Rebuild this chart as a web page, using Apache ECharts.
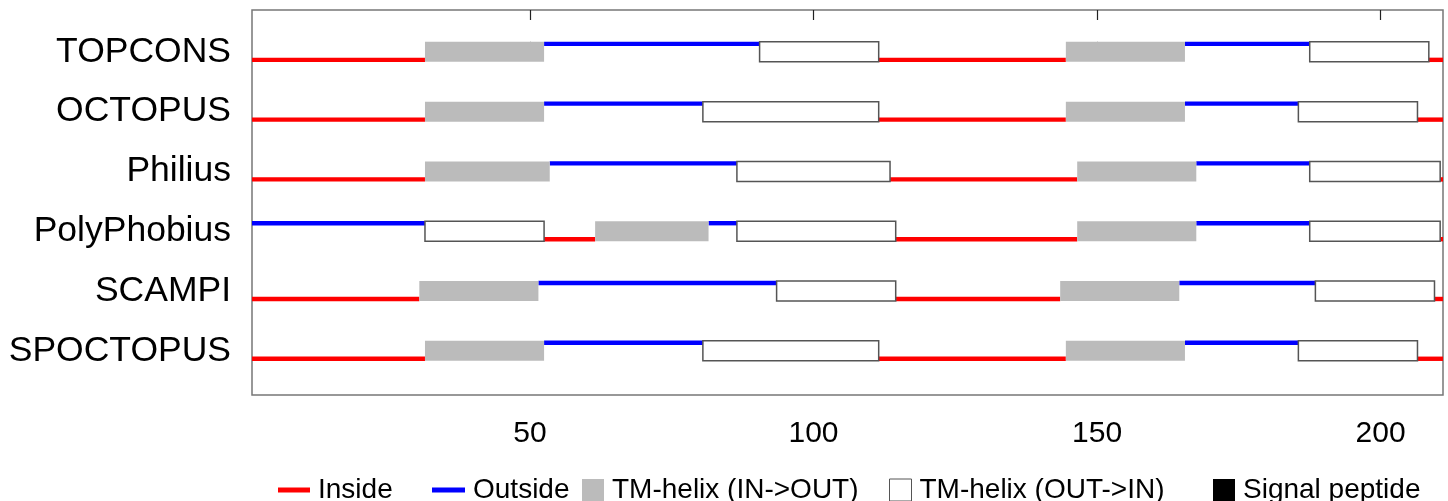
<!DOCTYPE html>
<html>
<head>
<meta charset="utf-8">
<script src="https://cdn.jsdelivr.net/npm/echarts@6/dist/echarts.min.js"></script>
<style>
html,body{margin:0;padding:0;background:#fff;}
#chart{width:1448px;height:501px;}
</style>
</head>
<body>
<div id="chart"></div>
<script>
// ---- data ----
const tools = ['TOPCONS', 'OCTOPUS', 'Philius', 'PolyPhobius', 'SCAMPI', 'SPOCTOPUS'];
const xTicks = [50, 100, 150, 200];
const seqStart = 1, seqEnd = 211;
// segments: [type, start, end]  type: in / out / hio (TM IN->OUT) / hoi (TM OUT->IN) / sp
const TOPCONS = [['in',1,31.5],['hio',31.5,52.5],['out',52.5,90.5],['hoi',90.5,111.5],['in',111.5,144.5],['hio',144.5,165.5],['out',165.5,187.5],['hoi',187.5,208.5],['in',208.5,211]];
const OCTOPUS = [['in',1,31.5],['hio',31.5,52.5],['out',52.5,80.5],['hoi',80.5,111.5],['in',111.5,144.5],['hio',144.5,165.5],['out',165.5,185.5],['hoi',185.5,206.5],['in',206.5,211]];
const Philius = [['in',1,31.5],['hio',31.5,53.5],['out',53.5,86.5],['hoi',86.5,113.5],['in',113.5,146.5],['hio',146.5,167.5],['out',167.5,187.5],['hoi',187.5,210.5],['in',210.5,211]];
const PolyPhobius = [['out',1,31.5],['hoi',31.5,52.5],['in',52.5,61.5],['hio',61.5,81.5],['out',81.5,86.5],['hoi',86.5,114.5],['in',114.5,146.5],['hio',146.5,167.5],['out',167.5,187.5],['hoi',187.5,210.5],['in',210.5,211]];
const SCAMPI = [['in',1,30.5],['hio',30.5,51.5],['out',51.5,93.5],['hoi',93.5,114.5],['in',114.5,143.5],['hio',143.5,164.5],['out',164.5,188.5],['hoi',188.5,209.5],['in',209.5,211]];
const SPOCTOPUS = [['in',1,31.5],['hio',31.5,52.5],['out',52.5,80.5],['hoi',80.5,111.5],['in',111.5,144.5],['hio',144.5,165.5],['out',165.5,185.5],['hoi',185.5,206.5],['in',206.5,211]];
const rows = [TOPCONS, OCTOPUS, Philius, PolyPhobius, SCAMPI, SPOCTOPUS];
const types = [
  {key:'in',  name:'Inside'},
  {key:'out', name:'Outside'},
  {key:'hio', name:'TM-helix (IN->OUT)'},
  {key:'hoi', name:'TM-helix (OUT->IN)'},
  {key:'sp',  name:'Signal peptide'}
];

// ---- build ----
function dataFor(key){
  const out = [];
  rows.forEach((segs, r) => segs.forEach(s => { if (s[0] === key) out.push([s[1], s[2], r]); }));
  return out;
}
const FONT = '"Liberation Sans", Arial, Helvetica, sans-serif';
const styleMap = {
  in:  {kind:'line', off: 8,  fill:'#ff0000'},
  out: {kind:'line', off:-8,  fill:'#0000ff'},
  hio: {kind:'box', fill:'#bbbbbb', stroke:null},
  hoi: {kind:'box', fill:'#ffffff', stroke:'#555555'},
  sp:  {kind:'box', fill:'#000000', stroke:null}
};
function makeRender(key){
  const st = styleMap[key];
  return function(params, api){
    const a = api.coord([api.value(0), api.value(2)]);
    const b = api.coord([api.value(1), api.value(2)]);
    if (st.kind === 'line') {
      return {type:'rect', shape:{x:a[0], y:a[1]+st.off-2.2, width:b[0]-a[0], height:4.4},
              style:{fill:st.fill}};
    }
    return {type:'rect', shape:{x:a[0], y:a[1]-10, width:b[0]-a[0], height:20},
            style:{fill:st.fill, stroke:st.stroke || null, lineWidth: st.stroke ? 1.5 : 0}};
  };
}
const order = ['in','out','hio','hoi','sp'];
const series = order.map(k => ({
  type:'custom', name: types.find(t=>t.key===k).name,
  xAxisIndex:0, yAxisIndex:0,
  color: styleMap[k].fill,
  renderItem: makeRender(k),
  encode:{x:[0,1], y:2},
  clip:true,
  data: dataFor(k),
  z: styleMap[k].kind === 'line' ? 2 : 3
}));

const legendDefs = [
  {name:'Inside', left:278, w:32, h:5, style:{color:'#ff0000'}},
  {name:'Outside', left:432, w:33, h:5, style:{color:'#0000ff'}},
  {name:'TM-helix (IN->OUT)', left:582, w:22, h:22, style:{color:'#bbbbbb'}},
  {name:'TM-helix (OUT->IN)', left:889, w:22, h:22, style:{color:'#ffffff', borderColor:'#555555', borderWidth:1}},
  {name:'Signal peptide', left:1213, w:22, h:22, style:{color:'#000000'}}
];
const legends = legendDefs.map(d => ({
  data:[{name:d.name, icon:'rect', itemStyle:d.style}],
  left:d.left, top:476, itemWidth:d.w, itemHeight:d.h, itemGap:0,
  selectedMode:false, padding:0,
  textStyle:{fontFamily:FONT, fontSize:28, color:'#000', padding:[0,0,0,3]}
}));

const option = {
  animation:false,
  backgroundColor:'#fff',
  grid:{left:252, right:5, top:10, bottom:106, show:true, borderColor:'#777', borderWidth:1.5, backgroundColor:'#fff'},
  legend: legends,
  xAxis:[
    {type:'value', min:seqStart, max:seqEnd, position:'bottom',
     axisLine:{show:false}, splitLine:{show:false},
     axisTick:{show:true, inside:true, length:10, customValues:xTicks, lineStyle:{color:'#222', width:1.2}},
     axisLabel:{show:true, customValues:xTicks, margin:24, fontFamily:FONT, fontSize:30, color:'#000'}},
    {type:'value', min:seqStart, max:seqEnd, position:'top',
     axisLine:{show:false}, splitLine:{show:false},
     axisTick:{show:true, inside:true, length:10, customValues:xTicks, lineStyle:{color:'#222', width:1.2}},
     axisLabel:{show:false}}
  ],
  yAxis:[{type:'value', inverse:true, min:-0.7, max:5.74,
    axisLine:{show:false}, axisTick:{show:false}, splitLine:{show:false},
    axisLabel:{show:true, customValues:[0,1,2,3,4,5], margin:21,
      formatter: v => tools[Math.round(v)] || '',
      fontFamily:FONT, fontSize:35.5, color:'#000', padding:[0,0,8,0]}}],
  series: series
};
const chart = echarts.init(document.getElementById('chart'), null, {renderer:'canvas'});
chart.setOption(option);
</script>
</body>
</html>
